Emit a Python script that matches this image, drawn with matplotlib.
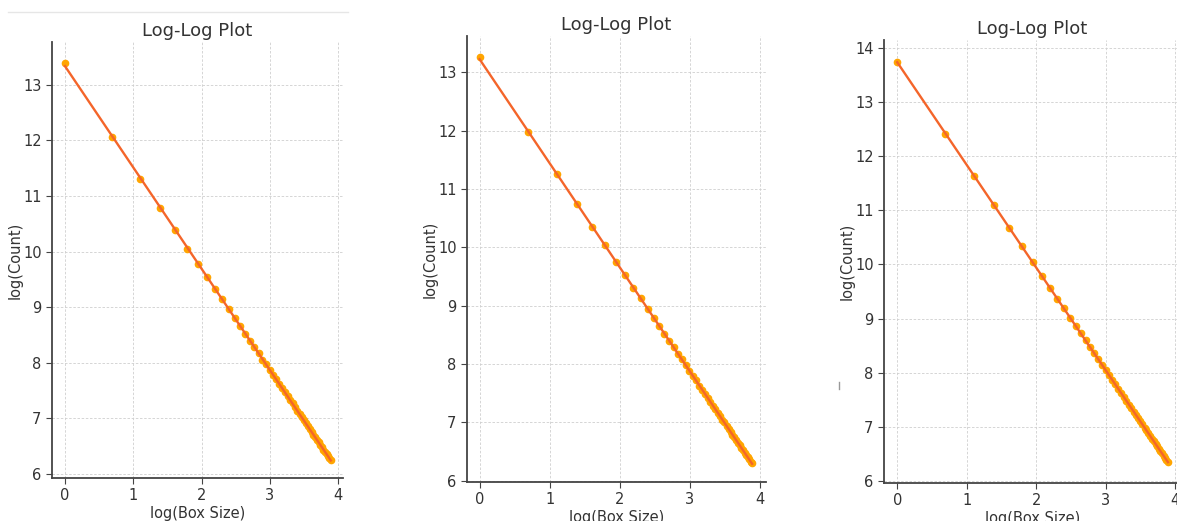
import numpy as np
import matplotlib.pyplot as plt
from matplotlib.lines import Line2D

# box sizes used for counting (1..49), same for every panel
box_sizes = list(range(1, 50))

# log(count)
log_count_a = [13.40, 12.07, 11.31, 10.79, 10.39, 10.05, 9.78, 9.54, 9.33, 9.15,
               8.96, 8.80, 8.67, 8.52, 8.40, 8.29, 8.17, 8.06, 7.98, 7.88,
               7.78, 7.71, 7.62, 7.55, 7.47, 7.40, 7.33, 7.27, 7.20, 7.14,
               7.08, 7.02, 6.97, 6.91, 6.86, 6.81, 6.76, 6.71, 6.66, 6.62,
               6.57, 6.53, 6.48, 6.44, 6.40, 6.36, 6.33, 6.29, 6.26]
log_count_b = [13.26, 11.97, 11.25, 10.74, 10.35, 10.04, 9.75, 9.52, 9.31, 9.13,
               8.95, 8.79, 8.66, 8.52, 8.40, 8.29, 8.17, 8.08, 7.98, 7.88,
               7.80, 7.72, 7.63, 7.56, 7.49, 7.42, 7.35, 7.29, 7.23, 7.16,
               7.11, 7.05, 7.00, 6.94, 6.89, 6.84, 6.79, 6.75, 6.70, 6.65,
               6.61, 6.57, 6.52, 6.48, 6.45, 6.40, 6.37, 6.33, 6.31]
log_count_c = [13.74, 12.41, 11.64, 11.10, 10.68, 10.34, 10.04, 9.79, 9.57, 9.36,
               9.19, 9.02, 8.87, 8.73, 8.60, 8.47, 8.36, 8.26, 8.15, 8.05,
               7.96, 7.87, 7.79, 7.71, 7.63, 7.55, 7.49, 7.41, 7.35, 7.28,
               7.22, 7.16, 7.11, 7.05, 6.99, 6.94, 6.89, 6.84, 6.79, 6.74,
               6.69, 6.65, 6.60, 6.56, 6.52, 6.47, 6.43, 6.40, 6.35]

W, H = 1177, 521
TEXT = "#333333"
POINT = "#FFA500"
FIT = "#F4652A"

# (left, bottom, right, top) in pixels, plus axis limits for each screenshot
panels = [
    (log_count_a, (52, 478, 343, 42), (-0.19, 4.07), (5.93, 13.77)),
    (log_count_b, (467, 482, 766, 36), (-0.18, 4.09), (5.98, 13.62)),
    (log_count_c, (884, 483, 1181, 40), (-0.19, 4.08), (5.97, 14.14)),
]

fig = plt.figure(figsize=(W / 100, H / 100), dpi=100)

log_size = np.log(box_sizes)
for counts, (l, b, r, t), xlim, ylim in panels:
    ax = fig.add_axes([l / W, 1 - b / H, (r - l) / W, (b - t) / H])
    ax.plot(log_size, counts, "o", color=POINT, ms=4.5, zorder=2)
    slope, icept = np.polyfit(log_size, counts, 1)
    ax.plot(log_size, slope * log_size + icept, color=FIT, lw=1.7, zorder=3)

    ax.set_xlim(*xlim)
    ax.set_ylim(*ylim)
    ax.set_xticks([0, 1, 2, 3, 4])
    ax.set_yticks(range(6, int(ylim[1]) + 1))
    ax.grid(True, ls=(0, (3, 2)), lw=0.6, color="#cfcfcf")
    ax.set_axisbelow(True)
    for side in ("top", "right"):
        ax.spines[side].set_visible(False)
    for side in ("left", "bottom"):
        ax.spines[side].set_color("#444444")
        ax.spines[side].set_linewidth(1.3)
    ax.tick_params(colors="#444444", labelcolor=TEXT, labelsize=10.5, length=4)

    ax.set_title("Log-Log Plot", fontsize=13, color=TEXT, pad=4)
    ax.set_xlabel("log(Box Size)", fontsize=10.5, color=TEXT, labelpad=2)
    ax.set_ylabel("log(Count)", fontsize=10.5, color=TEXT, labelpad=0)

# leftovers from the screenshots: page rule above the first chart, a stray mark
fig.add_artist(Line2D([8 / W, 348 / W], [1 - 12 / H, 1 - 12 / H],
                      color="#e6e6e6", lw=1))
fig.add_artist(Line2D([839 / W, 839 / W], [1 - 382 / H, 1 - 389 / H],
                      color="#999999", lw=1))

fig.savefig("out.png", dpi=100)
